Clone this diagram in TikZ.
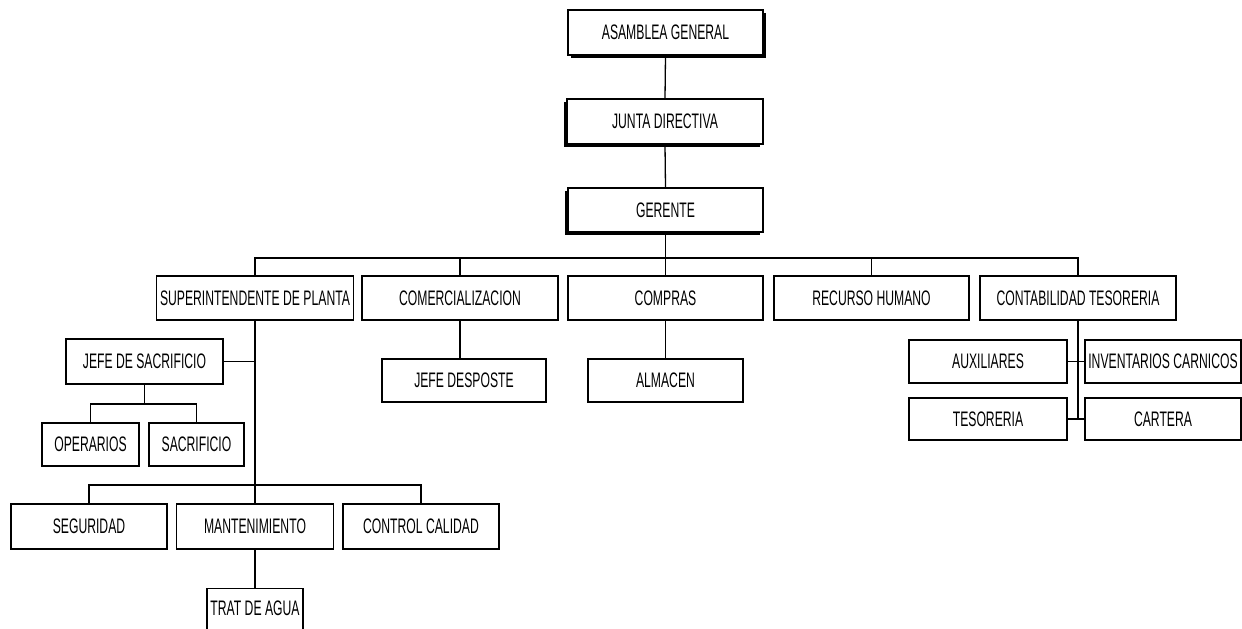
\documentclass[tikz,border=0pt]{standalone}
\usepackage{fontspec}
\setmainfont[FakeStretch=0.58]{Liberation Sans}
\usetikzlibrary{shadows}
\begin{document}
\begin{tikzpicture}[x=1pt,y=-1pt,
  box/.style={draw, line width=1.3pt, fill=white, inner sep=0pt,
    font=\fontsize{21}{21}\selectfont},
  shR/.style={drop shadow={shadow xshift=3pt, shadow yshift=-3pt, fill=black, opacity=1}},
  shL/.style={drop shadow={shadow xshift=-3pt, shadow yshift=-3pt, fill=black, opacity=1}},
  conn/.style={line width=1.3pt}]
\clip (0,0) rectangle (1242,629);
\fill[white] (0,0) rectangle (1242,629);
% top chain
\node[box, shR, minimum width=195pt, minimum height=45pt] (asam) at (665.5,32.5) {ASAMBLEA GENERAL};
\node[box, shL, minimum width=196pt, minimum height=45pt] (junta) at (665,121.5) {JUNTA DIRECTIVA};
\node[box, shL, minimum width=195pt, minimum height=44pt] (ger) at (665.5,210) {GERENTE};
% departments
\node[box, minimum width=197pt, minimum height=44pt] (sup) at (255,298) {SUPERINTENDENTE DE PLANTA};
\node[box, minimum width=196pt, minimum height=44pt] (com) at (460,298) {COMERCIALIZACION};
\node[box, minimum width=195pt, minimum height=44pt] (cpr) at (665.5,298) {COMPRAS};
\node[box, minimum width=195pt, minimum height=44pt] (rh) at (871.5,298) {RECURSO HUMANO};
\node[box, minimum width=196pt, minimum height=44pt] (cont) at (1078,298) {CONTABILIDAD TESORERIA};
\coordinate (bus) at (0,258);
% left branch
\node[box, minimum width=157pt, minimum height=45pt] (jefe) at (144.5,361.5) {JEFE DE SACRIFICIO};
\node[box, minimum width=97pt, minimum height=43pt] (oper) at (90.5,444.5) {OPERARIOS};
\node[box, minimum width=95pt, minimum height=43pt] (sacr) at (196.5,444.5) {SACRIFICIO};
\coordinate (bus2) at (0,404);
\node[box, minimum width=156pt, minimum height=45pt] (seg) at (89,526.5) {SEGURIDAD};
\node[box, minimum width=157pt, minimum height=45pt] (mant) at (255,526.5) {MANTENIMIENTO};
\node[box, minimum width=156pt, minimum height=45pt] (cc) at (421,526.5) {CONTROL CALIDAD};
\coordinate (bus3) at (0,485);
\node[box, minimum width=96pt, minimum height=50pt, anchor=north] (trat) at (255,588) {\raisebox{10pt}{TRAT DE AGUA}};
% middle
\node[box, minimum width=164pt, minimum height=43pt] (desp) at (464,380.5) {JEFE DESPOSTE};
\node[box, minimum width=155pt, minimum height=43pt] (alm) at (665.5,380.5) {ALMACEN};
% right branch
\node[box, minimum width=158pt, minimum height=43pt] (aux) at (988,361.5) {AUXILIARES};
\node[box, minimum width=156pt, minimum height=43pt] (inv) at (1163,361.5) {INVENTARIOS CARNICOS};
\node[box, minimum width=158pt, minimum height=42pt] (tes) at (988,419) {TESORERIA};
\node[box, minimum width=156pt, minimum height=42pt] (car) at (1163,419) {CARTERA};
% connectors
\draw[conn] (asam.south) -- (junta.north);
\draw[conn] (junta.south) -- (ger.north);
\draw[conn] (ger.south) -- (ger.south |- bus);
\draw[conn] (sup.north) -- (sup.north |- bus) -- (cont.north |- bus) -- (cont.north);
\draw[conn] (com.north) -- (com.north |- bus);
\draw[conn] (cpr.north) -- (cpr.north |- bus);
\draw[conn] (rh.north) -- (rh.north |- bus);
\draw[conn] (sup.south) -- (mant.north);
\draw[conn] (jefe.east) -- (jefe.east -| sup.south);
\draw[conn] (jefe.south) -- (jefe.south |- bus2);
\draw[conn] (oper.north) -- (oper.north |- bus2) -- (sacr.north |- bus2) -- (sacr.north);
\draw[conn] (seg.north) -- (seg.north |- bus3) -- (cc.north |- bus3) -- (cc.north);
\draw[conn] (mant.south) -- (trat.north);
\draw[conn] (com.south) -- (com.south |- desp.north);
\draw[conn] (cpr.south) -- (alm.north);
\draw[conn] (cont.south) -- (cont.south |- tes.east);
\draw[conn] (aux.east) -- (inv.west);
\draw[conn] (tes.east) -- (car.west);
\end{tikzpicture}
\end{document}
